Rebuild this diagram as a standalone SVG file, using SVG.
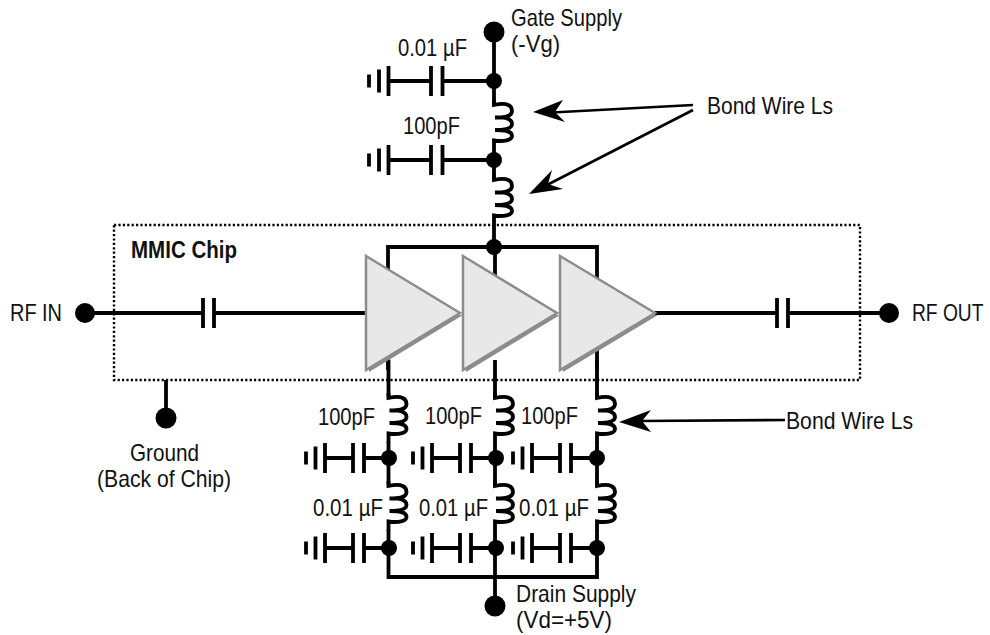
<svg xmlns="http://www.w3.org/2000/svg" xmlns:xlink="http://www.w3.org/1999/xlink" width="990" height="635" viewBox="0 0 990 635">
<style>
text{font-family:"Liberation Sans Narrow","Liberation Sans",Arial,sans-serif;font-size:24px;fill:#111}
.b{font-weight:bold}
.w{fill:none;stroke:#000;stroke-width:3.800;stroke-linejoin:miter}
.a{fill:none;stroke:#000;stroke-width:2.600}
.h{fill:#000}
.box{fill:none;stroke:#000;stroke-width:2.400;stroke-dasharray:2.200 2.200}
.tri{fill:#e8e8e8;stroke:#8c8c8c;stroke-width:2.500;stroke-linejoin:miter}
.sh{fill:#8c8c8c}
</style>
<defs>
<g id="coil"><path class="w" d="M0 -5V0C14 -3 18 1 18 6C18 11 12 12.500 1 12.500C14 12 18 15 18 19C18 23 12 25 1 25C14 25 18 27 18 31C18 35 10 37 0 35.500V45"/></g>
<g id="gnd"><path class="w" d="M0 -6.500V6.500M10 -11.500V11.500M19.500 -15V15M19.500 0H62M62 -15V15M73.500 -15V15"/></g>
<g id="gnd2"><path class="w" d="M0 -6.500V6.500M9.500 -11.500V11.500M19 -15V15M19 0H47M47 -15V15M58 -15V15"/></g>
</defs>
<g id="chip"><rect class="box" x="114" y="225" width="746" height="155"/><text class="b" x="131" y="258" textLength="106" lengthAdjust="spacingAndGlyphs">MMIC Chip</text></g>
<g id="connectors">
<path class="w" d="M494 32V105M494 150V180M494 225V247M388 370V247H597V370M495 247V280"/>
<path class="w" d="M85 313H203M214 313H366M655 313H777M788 313H889M166 380V418"/>
<path class="w" d="M203 298V328M214 298V328M777 298V328M788 298V328"/>
<path class="w" d="M388.500 360V397M388.500 442V485M388.500 530V577H597V530M597 360V397M597 442V485M495 360V397M495 442V485M495 530V606"/>
<path class="w" d="M442 81H494M442 160H494M364 458H389M364 548H389M471 458H495M471 548H495M571 458H597M571 548H597"/>
<path class="a" d="M693 105L552 112.500M693 110L545 186M785 420L640 421"/>
<path class="h" d="M533 112L563 100L555 112L565 122ZM529 194L552 170L548 184L563 189ZM619 422L651 410L642 421L651 432Z"/>
</g>
<g id="gate-supply"><circle cx="494" cy="32" r="10.500"/><text x="511" y="26" textLength="111" lengthAdjust="spacingAndGlyphs">Gate Supply</text><text x="511" y="52" textLength="49" lengthAdjust="spacingAndGlyphs">(-Vg)</text></g>
<g id="gate-c1"><use xlink:href="#gnd" x="369" y="81"/><circle cx="494" cy="81" r="8"/><text x="398" y="56" textLength="69" lengthAdjust="spacingAndGlyphs">0.01 µF</text></g>
<g id="gate-l1"><use xlink:href="#coil" x="494" y="105"/></g>
<g id="gate-c2"><use xlink:href="#gnd" x="369" y="160"/><circle cx="494" cy="160" r="8"/><text x="403" y="134" textLength="57" lengthAdjust="spacingAndGlyphs">100pF</text></g>
<g id="gate-l2"><use xlink:href="#coil" x="494" y="180"/></g>
<g id="junction"><circle cx="494" cy="247" r="8"/></g>
<g id="amp1"><path class="sh" d="M369 372L463 315L366 313Z"/><path class="tri" d="M366 256L460 313L366 370Z"/></g>
<g id="amp2"><path class="sh" d="M466 372L560 315L463 313Z"/><path class="tri" d="M463 256L557 313L463 370Z"/></g>
<g id="amp3"><path class="sh" d="M563 372L658 315L560 313Z"/><path class="tri" d="M560 256L655 313L560 370Z"/></g>
<g id="rf-in"><circle cx="85" cy="313" r="10"/><text x="10" y="321" textLength="52" lengthAdjust="spacingAndGlyphs">RF IN</text></g>
<g id="rf-out"><circle cx="889" cy="313" r="10"/><text transform="translate(912 321) scale(0.8 1)" style="font-family:'Liberation Sans',sans-serif">RF OUT</text></g>
<g id="ground"><circle cx="166" cy="418" r="10.500"/><text x="130" y="461" textLength="69" lengthAdjust="spacingAndGlyphs">Ground</text><text x="97" y="487" textLength="134" lengthAdjust="spacingAndGlyphs">(Back of Chip)</text></g>
<g id="drain-col1">
<use xlink:href="#coil" x="388.500" y="398"/><use xlink:href="#coil" x="388.500" y="486"/>
<use xlink:href="#gnd2" x="306" y="458"/><use xlink:href="#gnd2" x="306" y="548"/>
<circle cx="389" cy="458" r="8"/><circle cx="389" cy="548" r="8"/>
<text x="318" y="425" textLength="57" lengthAdjust="spacingAndGlyphs">100pF</text><text x="313" y="516" textLength="70" lengthAdjust="spacingAndGlyphs">0.01 µF</text>
</g>
<g id="drain-col2">
<use xlink:href="#coil" x="495" y="398"/><use xlink:href="#coil" x="495" y="486"/>
<use xlink:href="#gnd2" x="413" y="458"/><use xlink:href="#gnd2" x="413" y="548"/>
<circle cx="496" cy="458" r="8"/><circle cx="496" cy="548" r="8"/>
<text x="425" y="424" textLength="57" lengthAdjust="spacingAndGlyphs">100pF</text><text x="419" y="516" textLength="69" lengthAdjust="spacingAndGlyphs">0.01 µF</text>
</g>
<g id="drain-col3">
<use xlink:href="#coil" x="597" y="398"/><use xlink:href="#coil" x="597" y="486"/>
<use xlink:href="#gnd2" x="513" y="458"/><use xlink:href="#gnd2" x="513" y="548"/>
<circle cx="597" cy="458" r="8"/><circle cx="597" cy="548" r="8"/>
<text x="521" y="424" textLength="57" lengthAdjust="spacingAndGlyphs">100pF</text><text x="519" y="516" textLength="70" lengthAdjust="spacingAndGlyphs">0.01 µF</text>
</g>
<g id="drain-supply"><circle cx="495" cy="606" r="10.500"/><text x="516" y="602" textLength="120" lengthAdjust="spacingAndGlyphs">Drain Supply</text><text x="516" y="628" textLength="96" lengthAdjust="spacingAndGlyphs">(Vd=+5V)</text></g>
<g id="label-ls1"><text x="707" y="114" textLength="126" lengthAdjust="spacingAndGlyphs">Bond Wire Ls</text></g>
<g id="label-ls2"><text x="786" y="429" textLength="127" lengthAdjust="spacingAndGlyphs">Bond Wire Ls</text></g>
</svg>
